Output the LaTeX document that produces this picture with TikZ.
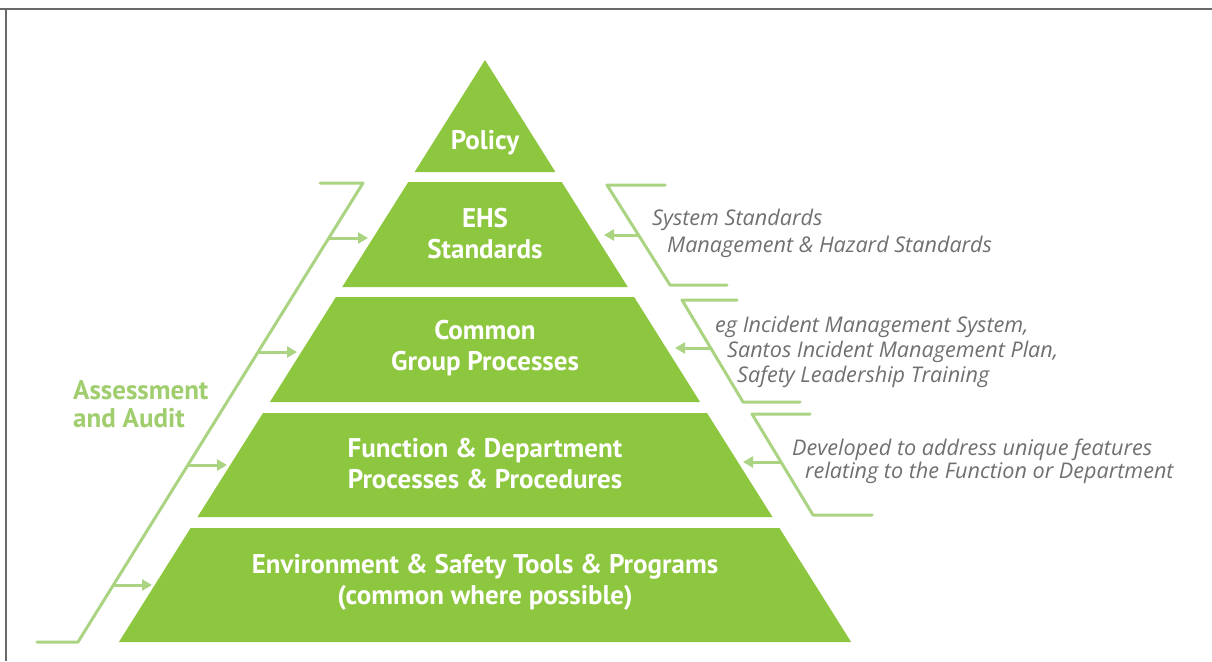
\documentclass[tikz,border=0pt]{standalone}
\usepackage{fontspec}
\setmainfont{PT Sans}
\newfontfamily\notefont{Open Sans}
\usetikzlibrary{arrows.meta}
\definecolor{tiergreen}{RGB}{141,198,63}
\definecolor{brkgreen}{RGB}{170,211,130}
\definecolor{auditgreen}{RGB}{160,205,110}
\definecolor{notegray}{RGB}{112,112,112}
\definecolor{framegray}{RGB}{105,105,105}
\begin{document}
\begin{tikzpicture}[x=1pt,y=-1pt,
  tier/.style={fill=tiergreen,draw=none},
  tiertext/.style={text=white,font=\bfseries\fontsize{27}{31}\selectfont,align=center,inner sep=0pt},
  brk/.style={draw=brkgreen,line width=3pt,line cap=round,line join=round},
  auditarrow/.style={draw=brkgreen,line width=3pt,-{Triangle[length=10pt,width=11pt]}},
  note/.style={text=notegray,font=\notefont\itshape\fontsize{21.6}{24}\selectfont,anchor=west,inner sep=0pt},
  audit/.style={text=auditgreen,font=\bfseries\fontsize{27}{26}\selectfont,align=left,anchor=north west,inner sep=0pt}]
\useasboundingbox (0,0) rectangle (1212,661);
\fill[white] (0,0) rectangle (1212,661);
% frame
\draw[framegray,line width=2pt] (0,9) -- (1212,9);
\draw[framegray,line width=2pt] (6,9) -- (6,661);
% tiers
\fill[tier] (485,60) -- (555.4,172) -- (414.6,172) -- cycle;
\fill[tier] (408.3,182) -- (561.7,182) -- (627.8,287) -- (342.2,287) -- cycle;
\fill[tier] (335.9,297) -- (634.1,297) -- (700.1,402) -- (269.9,402) -- cycle;
\fill[tier] (263.0,413) -- (707.0,413) -- (772.5,517) -- (197.5,517) -- cycle;
\fill[tier] (190.6,528) -- (779.4,528) -- (851.1,642) -- (118.9,642) -- cycle;
% tier texts
\node[tiertext] (policy) at (485,143) {Policy};
\node[tiertext] (ehs) at (485,234) {EHS\\Standards};
\node[tiertext] (common) at (485,348) {Common\\Group Processes};
\node[tiertext] (function) at (485,464) {Function \& Department\\Processes \& Procedures};
\node[tiertext] (env) at (485,582) {Environment \& Safety Tools \& Programs\\(common where possible)};
% left bracket
\draw[brk] (320,183) -- (363,183) -- (78,642) -- (37,642);
\node[audit] (audittext) at (73,380) {Assessment\\[2pt]and Audit};
\coordinate (la1) at (329,238);   \coordinate (lt1) at (368,238);
\coordinate (la2) at (258.6,352); \coordinate (lt2) at (297,352);
\coordinate (la3) at (188.4,465); \coordinate (lt3) at (227,465);
\coordinate (la4) at (113.9,585); \coordinate (lt4) at (152,585);
\draw[auditarrow] (la1) -- (lt1);
\draw[auditarrow] (la2) -- (lt2);
\draw[auditarrow] (la3) -- (lt3);
\draw[auditarrow] (la4) -- (lt4);
% right bracket 1
\draw[brk] (665,185) -- (607,185) -- (670,285) -- (727,285);
\coordinate (ra1) at (638.5,235); \coordinate (rt1) at (604,235);
\draw[auditarrow] (ra1) -- (rt1);
\node[note] (n1a) at (652,220) {System Standards};
\node[note] (n1b) at (667,247) {Management \& Hazard Standards};
% right bracket 2
\draw[brk] (737,300) -- (682,300) -- (743,402) -- (800,402);
\coordinate (ra2) at (711,348); \coordinate (rt2) at (675,348);
\draw[auditarrow] (ra2) -- (rt2);
\node[note] (n2a) at (715,327) {eg Incident Management System,};
\node[note] (n2b) at (727,352) {Santos Incident Management Plan,};
\node[note] (n2c) at (737,377) {Safety Leadership Training};
% right bracket 3
\draw[brk] (810,414) -- (752,414) -- (813,515) -- (872,515);
\coordinate (ra3) at (781,462); \coordinate (rt3) at (743,462);
\draw[auditarrow] (ra3) -- (rt3);
\node[note] (n3a) at (792,450) {Developed to address unique features};
\node[note] (n3b) at (805,473) {relating to the Function or Department};
\end{tikzpicture}
\end{document}
